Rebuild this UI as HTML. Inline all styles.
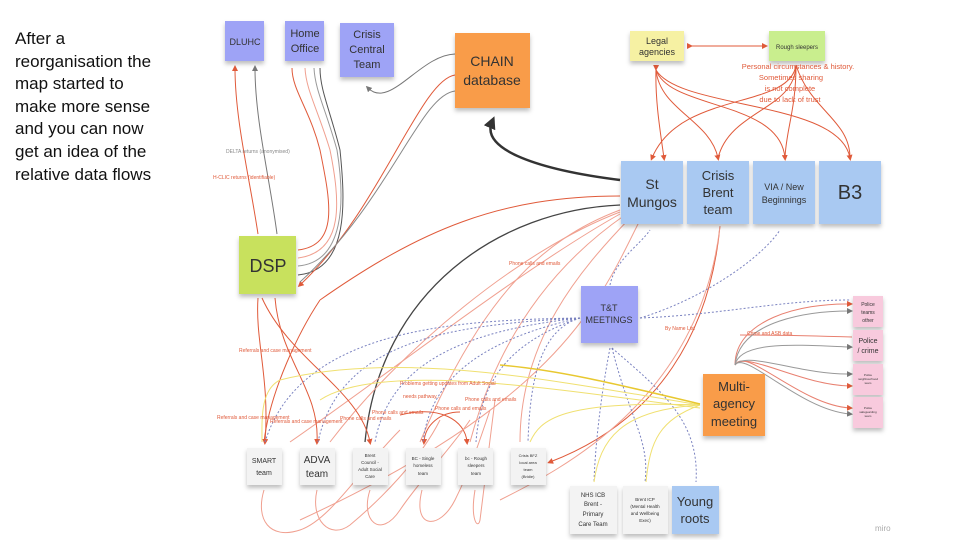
<!DOCTYPE html>
<html><head><meta charset="utf-8"><style>
html,body{margin:0;padding:0;background:#fff;width:960px;height:540px;overflow:hidden;font-family:"Liberation Sans",sans-serif}
.t{position:absolute;left:15px;top:28px;font-size:17px;line-height:22.6px;color:#111}
svg{position:absolute;left:0;top:0}
</style></head><body>
<div class="t">After a<br>reorganisation the<br>map started to<br>make more sense<br>and you can now<br>get an idea of the<br>relative data flows</div>
<svg width="960" height="540" viewBox="0 0 960 540" font-family="Liberation Sans, sans-serif">
<defs>
<marker id="ar" markerWidth="6" markerHeight="6" refX="3" refY="3" orient="auto"><path d="M0,0L6,3L0,6z" fill="#e05a3a"/></marker>
<marker id="ag" markerWidth="6" markerHeight="6" refX="3" refY="3" orient="auto"><path d="M0,0L6,3L0,6z" fill="#777"/></marker>
<marker id="ab" markerWidth="5" markerHeight="5" refX="2.5" refY="2.5" orient="auto"><path d="M0,0L5,2.5L0,5z" fill="#333"/></marker>
<filter id="sh" x="-10%" y="-10%" width="120%" height="130%"><feDropShadow dx="0" dy="3" stdDeviation="2" flood-color="#000" flood-opacity="0.25"/></filter>
</defs>
<g fill="none" stroke-width="1">
<!-- DSP up -->
<path d="M258,234 C250,180 235,120 235,68" stroke="#e05a3a" marker-end="url(#ar)"/>
<path d="M277,234 C270,180 255,120 255,68" stroke="#777" marker-end="url(#ag)"/>
<path d="M298,250 C340,245 330,200 320,150 C310,110 292,90 292,68" stroke="#e05a3a"/>
<path d="M298,258 C345,252 340,200 330,150 C318,110 306,90 305,68" stroke="#f0a090"/>
<path d="M298,266 C345,262 345,200 337,150 C326,110 315,90 314,68" stroke="#999"/>
<path d="M298,275 C350,270 345,200 340,150 C330,110 320,90 320,68" stroke="#555"/>
<path d="M455,75 C420,80 380,210 300,285" stroke="#e05a3a" marker-end="url(#ar)"/>
<path d="M455,91 C420,95 390,200 300,282" stroke="#888"/>
<path d="M455,54 C420,55 390,110 368,88" stroke="#777" marker-end="url(#ag)"/>
<path d="M620,180 C540,170 480,150 492,122" stroke="#333" stroke-width="2.5" marker-end="url(#ab)"/>
<path d="M620,196 C500,196 420,230 320,300" stroke="#e05a3a"/>
<path d="M620,205 C500,210 380,290 365,442" stroke="#444" stroke-width="1.3"/>
<!-- many faint red from St Mungos down -->
<path d="M620,210 C540,240 480,300 420,442" stroke="#f0a090"/>
<path d="M625,215 C560,260 500,330 470,442" stroke="#f0a090"/>
<path d="M630,218 C580,270 520,340 520,442" stroke="#f0a090"/>
<path d="M620,212 C520,250 400,350 330,442" stroke="#f0a090"/>
<path d="M620,214 C520,270 380,380 290,442" stroke="#f0a090"/>
<path d="M640,220 C600,300 560,400 300,520" stroke="#f0a090"/>
<path d="M720,226 C710,330 660,420 550,462" stroke="#e05a3a" marker-end="url(#ar)"/>
<path d="M720,226 C700,400 560,470 500,500" stroke="#f0a090"/>
<!-- DSP down -->
<path d="M258,298 C255,340 270,380 265,442" stroke="#e05a3a" marker-end="url(#ar)"/>
<path d="M275,298 C280,360 320,390 317,442" stroke="#e05a3a" marker-end="url(#ar)"/>
<path d="M262,298 C290,360 360,390 370,442" stroke="#e05a3a" marker-end="url(#ar)"/>
<path d="M320,300 C300,330 270,390 264,442" stroke="#e05a3a"/>
<path d="M400,415 C440,405 465,420 467,442" stroke="#e05a3a" marker-end="url(#ar)"/>
<path d="M460,412 C440,412 425,425 424,442" stroke="#e05a3a" marker-end="url(#ar)"/>
<!-- bottom loops -->
<path d="M264,490 C255,520 270,540 300,530 C330,520 360,470 400,430" stroke="#f0a090"/>
<path d="M317,490 C310,520 330,540 350,525 C380,500 420,460 440,420" stroke="#f0a090"/>
<path d="M370,490 C360,520 380,540 400,510 C420,480 450,450 470,420" stroke="#f0a090"/>
<path d="M422,490 C412,530 440,530 455,500 C470,470 480,440 490,410" stroke="#f0a090"/>
<path d="M475,490 C470,520 478,530 480,520 C485,480 490,440 495,400" stroke="#f0a090"/>
<!-- T&T dotted -->
<g stroke="#7a82c0" stroke-dasharray="2,2">
<path d="M580,318 C450,320 300,330 265,442"/>
<path d="M580,318 C450,325 340,340 318,442"/>
<path d="M580,318 C470,330 390,360 375,442"/>
<path d="M580,318 C480,340 430,380 423,442"/>
<path d="M580,318 C500,345 480,390 476,442"/>
<path d="M580,318 C540,330 530,380 528,442"/>
<path d="M640,318 C720,315 780,300 850,300"/>
<path d="M640,318 C700,300 760,260 780,230"/>
<path d="M610,285 C615,260 640,245 650,230"/>
<path d="M610,348 C600,400 595,450 594,482"/>
<path d="M612,348 C630,420 650,440 645,482"/>
<path d="M612,348 C660,390 700,420 696,482"/>
</g>
<!-- yellow -->
<g stroke="#f0e070">
<path d="M700,405 C550,380 400,350 280,380 C260,390 262,420 262,442"/>
<path d="M700,408 C560,390 380,360 320,400"/>
<path d="M700,405 C620,410 600,440 594,482"/>
<path d="M700,405 C660,420 650,440 646,482"/>
<path d="M700,405 C560,400 540,420 530,442"/>
</g>
<path d="M700,404 C620,385 560,370 500,365" stroke="#e8c830" stroke-width="1.5"/>
<!-- top right -->
<path d="M690,46 L765,46" stroke="#e05a3a" marker-start="url(#ar)" marker-end="url(#ar)"/>
<path d="M656,68 C655,100 660,130 664,158" stroke="#e05a3a" marker-start="url(#ar)" marker-end="url(#ar)"/>
<path d="M656,70 C660,110 710,120 718,158" stroke="#e05a3a" marker-end="url(#ar)"/>
<path d="M656,70 C670,110 780,100 785,158" stroke="#e05a3a" marker-end="url(#ar)"/>
<path d="M656,70 C680,110 840,100 850,158" stroke="#e05a3a" marker-end="url(#ar)"/>
<path d="M796,65 C790,110 680,90 652,158" stroke="#e05a3a" marker-end="url(#ar)"/>
<path d="M796,65 C795,110 730,110 718,158" stroke="#e05a3a"/>
<path d="M796,65 C796,110 786,130 785,158" stroke="#e05a3a"/>
<path d="M796,65 C810,110 850,120 850,158" stroke="#e05a3a"/>
<!-- police -->
<g stroke="#e88070">
<path d="M735,365 C735,320 800,303 850,304" marker-end="url(#ar)"/>
<path d="M735,365 C745,350 800,385 850,386" marker-end="url(#ar)"/>
<path d="M735,365 C745,345 800,405 850,408" marker-end="url(#ar)"/>
<path d="M740,335 C780,335 820,336 852,337"/>
</g>
<g stroke="#999">
<path d="M735,365 C740,320 810,311 850,311" marker-end="url(#ag)"/>
<path d="M735,365 C740,340 800,345 850,347" marker-end="url(#ag)"/>
<path d="M735,365 C745,350 800,375 850,374" marker-end="url(#ag)"/>
<path d="M735,365 C745,350 800,410 850,414" marker-end="url(#ag)"/>
</g>
</g>
<!-- nodes -->
<g filter="url(#sh)">
<rect x="225" y="21" width="39" height="40" fill="#9ea3f6"/>
<rect x="285" y="21" width="39" height="40" fill="#9ea3f6"/>
<rect x="340" y="23" width="54" height="54" fill="#9ea3f6"/>
<rect x="455" y="33" width="75" height="75" fill="#f99c48"/>
<rect x="239" y="236" width="57" height="58" fill="#c8e15d"/>
<rect x="630" y="31" width="54" height="30" fill="#f6f1a3"/>
<rect x="769" y="31" width="56" height="30" fill="#c9ee8e"/>
<rect x="621" y="161" width="62" height="63" fill="#a9c9f2"/>
<rect x="687" y="161" width="62" height="63" fill="#a9c9f2"/>
<rect x="753" y="161" width="62" height="63" fill="#a9c9f2"/>
<rect x="819" y="161" width="62" height="63" fill="#a9c9f2"/>
<rect x="581" y="286" width="57" height="57" fill="#9ea3f6"/>
<rect x="703" y="374" width="62" height="62" fill="#f99c48"/>
<rect x="853" y="296" width="30" height="31" fill="#f8cadd"/>
<rect x="853" y="330" width="30" height="31" fill="#f8cadd"/>
<rect x="853" y="364" width="30" height="31" fill="#f8cadd"/>
<rect x="853" y="397" width="30" height="31" fill="#f8cadd"/>
<rect x="247" y="448" width="35" height="37" fill="#f3f3f3"/>
<rect x="300" y="448" width="35" height="37" fill="#f3f3f3"/>
<rect x="353" y="448" width="35" height="37" fill="#f3f3f3"/>
<rect x="406" y="448" width="35" height="37" fill="#f3f3f3"/>
<rect x="458" y="448" width="35" height="37" fill="#f3f3f3"/>
<rect x="511" y="448" width="35" height="37" fill="#f3f3f3"/>
<rect x="570" y="486" width="47" height="48" fill="#f3f3f3"/>
<rect x="623" y="486" width="45" height="48" fill="#f3f3f3"/>
<rect x="672" y="486" width="47" height="48" fill="#a9c9f2"/>
</g>
<g fill="#333" text-anchor="middle">
<text x="245" y="45" font-size="9">DLUHC</text>
<text x="305" y="37" font-size="11">Home</text><text x="305" y="52" font-size="11">Office</text>
<text x="367" y="38" font-size="11">Crisis</text><text x="367" y="53" font-size="11">Central</text><text x="367" y="68" font-size="11">Team</text>
<text x="492" y="66" font-size="14">CHAIN</text><text x="492" y="85" font-size="14">database</text>
<text x="268" y="272" font-size="18">DSP</text>
<text x="657" y="44" font-size="9">Legal</text><text x="657" y="55" font-size="9">agencies</text>
<text x="797" y="49" font-size="6">Rough sleepers</text>
<text x="652" y="189" font-size="14">St</text><text x="652" y="207" font-size="14">Mungos</text>
<text x="718" y="180" font-size="13">Crisis</text><text x="718" y="197" font-size="13">Brent</text><text x="718" y="214" font-size="13">team</text>
<text x="784" y="190" font-size="9">VIA / New</text><text x="784" y="203" font-size="9">Beginnings</text>
<text x="850" y="199" font-size="20">B3</text>
<text x="609" y="311" font-size="9">T&amp;T</text><text x="609" y="323" font-size="9">MEETINGS</text>
<text x="734" y="391" font-size="13">Multi-</text><text x="734" y="408" font-size="13">agency</text><text x="734" y="426" font-size="13">meeting</text>
<text x="868" y="306" font-size="5">Police</text><text x="868" y="314" font-size="5">teams</text><text x="868" y="322" font-size="5">other</text>
<text x="868" y="343" font-size="7">Police</text><text x="868" y="353" font-size="7">/ crime</text>
<text x="868" y="376" font-size="3">Police</text><text x="868" y="380" font-size="3">neighbourhood</text><text x="868" y="384" font-size="3">team</text>
<text x="868" y="409" font-size="3">Police</text><text x="868" y="413" font-size="3">safeguarding</text><text x="868" y="417" font-size="3">team</text>
<text x="264" y="463" font-size="7">SMART</text><text x="264" y="475" font-size="7">team</text>
<text x="317" y="463" font-size="10">ADVA</text><text x="317" y="477" font-size="10">team</text>
<text x="370" y="457" font-size="4.5">Brent</text><text x="370" y="464" font-size="4.5">Council -</text><text x="370" y="471" font-size="4.5">Adult Social</text><text x="370" y="478" font-size="4.5">Care</text>
<text x="423" y="460" font-size="4.5">BC - Single</text><text x="423" y="467" font-size="4.5">homeless</text><text x="423" y="475" font-size="4.5">team</text>
<text x="476" y="460" font-size="4.5">bc - Rough</text><text x="476" y="467" font-size="4.5">sleepers</text><text x="476" y="475" font-size="4.5">team</text>
<text x="528" y="457" font-size="4">Crisis BFZ</text><text x="528" y="464" font-size="4">local area</text><text x="528" y="471" font-size="4">team</text><text x="528" y="478" font-size="4">(Bridie)</text>
<text x="593" y="497" font-size="6">NHS ICB</text><text x="593" y="506" font-size="6">Brent -</text><text x="593" y="516" font-size="6">Primary</text><text x="593" y="526" font-size="6">Care Team</text>
<text x="645" y="501" font-size="4.5">Brent ICP</text><text x="645" y="508" font-size="4.5">(Mental Health</text><text x="645" y="515" font-size="4.5">and Wellbeing</text><text x="645" y="522" font-size="4.5">Exec)</text>
<text x="695" y="506" font-size="13">Young</text><text x="695" y="523" font-size="13">roots</text>
</g>
<g font-size="5" fill="#e05a3a">
<text x="226" y="153" fill="#888">DELTA returns (anonymised)</text>
<text x="213" y="179">H-CLIC returns (identifiable)</text>
<text x="509" y="265">Phone calls and emails</text>
<text x="665" y="330">By Name List</text>
<text x="747" y="335">Crime and ASB data</text>
<text x="239" y="352">Referrals and case management</text>
<text x="217" y="419">Referrals and case management</text>
<text x="270" y="423">Referrals and case management</text>
<text x="400" y="385">Problems getting updates from Adult Social</text>
<text x="403" y="398">needs pathway... </text>
<text x="465" y="401">Phone calls and emails</text>
<text x="435" y="410">Phone calls and emails</text>
<text x="372" y="414">Phone calls and emails</text>
<text x="340" y="420">Phone calls and emails</text>
</g>
<g font-size="7.5" fill="#e05a3a" text-anchor="middle">
<text x="798" y="69">Personal circumstances &amp; history.</text>
<text x="791" y="80">Sometimes sharing</text>
<text x="790" y="91">is not complete</text>
<text x="790" y="102">due to lack of trust</text>
</g>
<text x="875" y="531" font-size="8" fill="#aaa">miro</text>
</svg>
</body></html>
